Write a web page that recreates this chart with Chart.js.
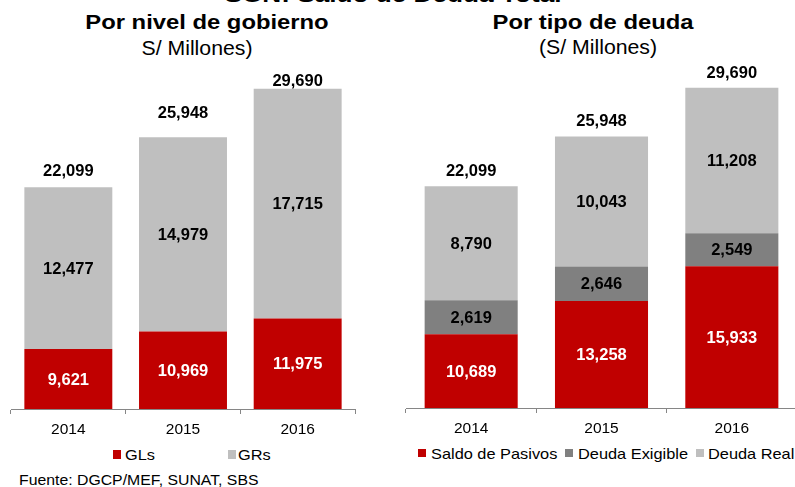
<!DOCTYPE html>
<html><head><meta charset="utf-8">
<script src="https://cdn.jsdelivr.net/npm/chart.js@4/dist/chart.umd.min.js"></script>
<style>
html,body{margin:0;padding:0;background:#fff;width:795px;height:487px;overflow:hidden;position:relative;font-family:'Liberation Sans',Arial,sans-serif;color:#000}
.t{position:absolute;white-space:nowrap;line-height:1}
.c{transform:translateX(-50%) scaleX(var(--sx));}
.l{transform-origin:0 50%;transform:scaleX(var(--sx));}
.b{font-weight:bold}
.sq{position:absolute;width:8px;height:8px}
.wrap{position:absolute;top:0}
</style></head>
<body>
<div class="t c b" style="--sx:1.19;font-size:22px;left:393px;top:-16.5px">SGN: Saldo de Deuda Total</div>
<div class="t c b" style="--sx:1.19;font-size:20px;left:206.5px;top:12px">Por nivel de gobierno</div>
<div class="t c" style="--sx:1.09;font-size:19.5px;left:196.5px;top:38.5px">S/ Millones)</div>
<div class="t c b" style="--sx:1.19;font-size:20px;left:592.5px;top:12px">Por tipo de deuda</div>
<div class="t c" style="--sx:1.09;font-size:19.5px;left:598px;top:37.5px">(S/ Millones)</div>

<div class="wrap" style="left:0;width:400px;height:440px"><canvas id="c1" width="400" height="440"></canvas></div>
<div class="wrap" style="left:400px;width:400px;height:440px"><canvas id="c2" width="400" height="440"></canvas></div>

<div class="sq" style="left:113px;top:450px;height:9px;background:#C00000"></div>
<div class="t l" style="--sx:1.09;font-size:15px;left:125px;top:447.3px">GLs</div>
<div class="sq" style="left:228px;top:450px;height:9px;background:#BFBFBF"></div>
<div class="t l" style="--sx:1.09;font-size:15px;left:238px;top:447.3px">GRs</div>

<div class="sq" style="left:418px;top:449px;background:#C00000"></div>
<div class="t l" style="--sx:1.09;font-size:15px;left:431px;top:445.8px">Saldo de Pasivos</div>
<div class="sq" style="left:565px;top:449px;background:#808080"></div>
<div class="t l" style="--sx:1.09;font-size:15px;left:578px;top:445.8px">Deuda Exigible</div>
<div class="sq" style="left:696px;top:449px;background:#BFBFBF"></div>
<div class="t l" style="--sx:1.09;font-size:15px;left:708px;top:445.8px">Deuda Real</div>

<div class="t l" style="--sx:1.09;font-size:14.5px;left:19px;top:472.7px">Fuente: DGCP/MEF, SUNAT, SBS</div>

<script>
// ---- data ----
const years = ['2014', '2015', '2016'];
const gls = [9621, 10969, 11975];
const grs = [12477, 14979, 17715];
const totalNivel = [22099, 25948, 29690];
const saldoPasivos = [10689, 13258, 15933];
const deudaExigible = [2619, 2646, 2549];
const deudaReal = [8790, 10043, 11208];
const totalTipo = [22099, 25948, 29690];
const yMin = 5000, yMax = 35000;

const FONT = "'Liberation Sans', Arial, sans-serif";
Chart.defaults.font.family = FONT;
Chart.defaults.color = '#000';

const fmt = v => v.toLocaleString('en-US');

const segLabels = {
  id: 'segLabels',
  afterDatasetsDraw(chart, args, opts) {
    const ctx = chart.ctx, area = chart.chartArea;
    ctx.save();
    ctx.font = `bold ${opts.size}px ${FONT}`;
    ctx.textAlign = 'center';
    ctx.textBaseline = 'middle';
    chart.data.datasets.forEach((ds, di) => {
      const meta = chart.getDatasetMeta(di);
      meta.data.forEach((bar, i) => {
        const top = bar.y, bottom = Math.min(bar.base, area.bottom);
        ctx.fillStyle = ds.labelColor;
        ctx.fillText(fmt(ds.data[i]), bar.x, (top + bottom) / 2 + 1);
      });
    });
    const last = chart.getDatasetMeta(chart.data.datasets.length - 1);
    ctx.fillStyle = '#000';
    opts.totals.forEach((t, i) => {
      const bar = last.data[i];
      ctx.fillText(fmt(t), bar.x, bar.y - opts.offsets[i] + 1);
    });
    ctx.restore();
  }
};

function makeChart(id, datasets, totals, offsets, pad, axisH, barPct) {
  return new Chart(document.getElementById(id), {
    type: 'bar',
    data: { labels: years, datasets: datasets.map(d => Object.assign({
      borderWidth: 0, barPercentage: barPct, categoryPercentage: 1, clip: 0
    }, d)) },
    options: {
      responsive: false, animation: false,
      layout: { padding: pad },
      plugins: { legend: { display: false }, tooltip: { enabled: false },
        segLabels: { size: 16.5, totals: totals, offsets: offsets } },
      scales: {
        x: { stacked: true,
          grid: { display: true, offset: true, drawOnChartArea: false, drawTicks: true, tickLength: 5, color: '#868686' },
          border: { display: true, color: '#868686', width: 1 },
          ticks: { font: { size: 15.5 }, color: '#000', padding: 6 },
          afterFit: s => { s.height = axisH; } },
        y: { stacked: true, display: false, min: yMin, max: yMax }
      }
    },
    plugins: [segLabels]
  });
}

makeChart('c1', [
  { label: 'GLs', data: gls, backgroundColor: '#C00000', labelColor: '#fff' },
  { label: 'GRs', data: grs, backgroundColor: '#BFBFBF', labelColor: '#000' }
], totalNivel, [16.5, 24.5, 8], { left: 11, right: 45, top: 20, bottom: 0 }, 31, 0.767);

makeChart('c2', [
  { label: 'Saldo de Pasivos', data: saldoPasivos, backgroundColor: '#C00000', labelColor: '#fff' },
  { label: 'Deuda Exigible', data: deudaExigible, backgroundColor: '#808080', labelColor: '#000' },
  { label: 'Deuda Real', data: deudaReal, backgroundColor: '#BFBFBF', labelColor: '#000' }
], totalTipo, [16, 16, 15], { left: 6, right: 3, top: 19, bottom: 0 }, 32, 0.714);
</script>
</body></html>
